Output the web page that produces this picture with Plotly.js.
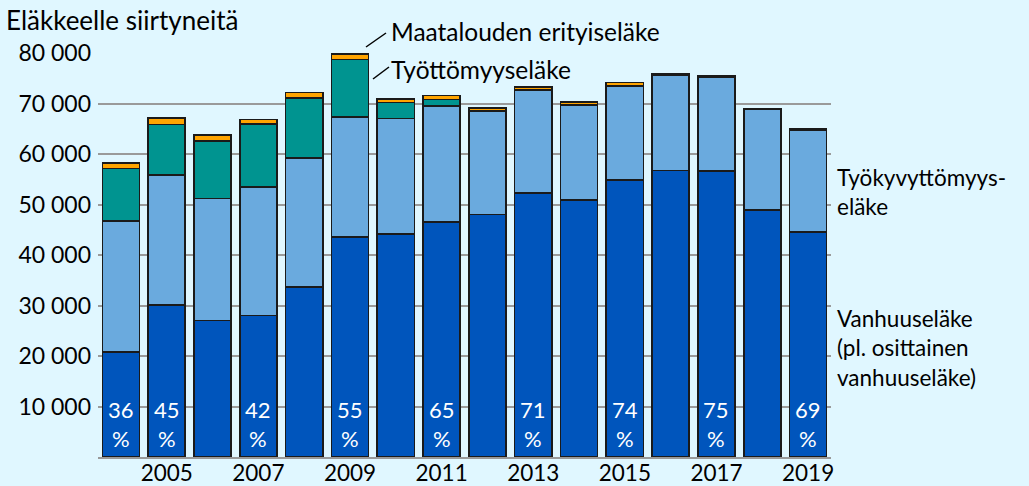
<!DOCTYPE html>
<html>
<head>
<meta charset="utf-8">
<script src="https://cdn.plot.ly/plotly-3.0.1.min.js"></script>
<style>
  html, body { margin: 0; padding: 0; background: #E0F7FF; }
  #chart { width: 1029px; height: 486px; }
</style>
</head>
<body>
<div id="chart"></div>
<script>
const years = [2004, 2005, 2006, 2007, 2008, 2009, 2010, 2011, 2012, 2013, 2014, 2015, 2016, 2017, 2018, 2019];
const vanhuuselake = [20800, 30150, 27060, 28050, 33720, 43620, 44150, 46590, 48050, 52330, 50890, 54850, 56770, 56630, 48910, 44610];
const tyokyvyttomyyselake = [25900, 25750, 24160, 25410, 25480, 23760, 22910, 22970, 20520, 20340, 18810, 18610, 18870, 18670, 19940, 20200];
const tyottomyyselake = [10460, 9970, 11350, 12470, 11880, 11360, 3170, 1260, null, null, null, null, null, null, null, null];
const maatalousErityiselake = [1100, 1250, 1190, 930, 1130, 1060, 720, 790, 590, 650, 650, 660, 260, 140, 110, 130];
const pctYears = [2004, 2005, 2007, 2009, 2011, 2013, 2015, 2017, 2019];
const pctLabels = ['36', '45', '42', '55', '65', '71', '74', '75', '69'];
const yTickVals = [10000, 20000, 30000, 40000, 50000, 60000, 70000, 80000];
const yTickText = ['10 000', '20 000', '30 000', '40 000', '50 000', '60 000', '70 000', '80 000'];
const xTickVals = [2005, 2007, 2009, 2011, 2013, 2015, 2017, 2019];

const FONT = 'Lato, "Open Sans", sans-serif';
const FS = 23;
const TS = 24.5;
const barLine = { color: '#1a1a1a', width: 1.6 };
const bw = 0.81;

function barTrace(name, y, color) {
  return { type: 'bar', name: name, x: years, y: y, width: bw,
    marker: { color: color, line: barLine }, hoverinfo: 'skip' };
}

const data = [
  barTrace('Vanhuuseläke', vanhuuselake, '#0055BC'),
  barTrace('Työkyvyttömyyseläke', tyokyvyttomyyselake, '#6AAADE'),
  barTrace('Työttömyyseläke', tyottomyyselake, '#009490'),
  barTrace('Maatalouden erityiseläke', maatalousErityiselake, '#FFA400')
];

const annotations = [];
pctYears.forEach((yr, i) => {
  annotations.push({ x: yr, y: 6500, xref: 'x', yref: 'y', text: pctLabels[i] + '<br>%', showarrow: false,
    font: { family: FONT, size: 22, color: '#ffffff' } });
});

const textFont = { family: FONT, size: TS, color: '#000000' };
const px = v => (v - 98) / 733;
const py = v => (457 - v) / 404;
annotations.push({ xref: 'paper', yref: 'paper', x: px(4), y: py(20), xanchor: 'left', yanchor: 'middle',
  text: 'Eläkkeelle siirtyneitä', showarrow: false, font: { family: FONT, size: 26, color: '#000' } });
annotations.push({ xref: 'paper', yref: 'paper', x: px(389), y: py(32), xanchor: 'left', yanchor: 'middle',
  text: 'Maatalouden erityiseläke', showarrow: false, font: textFont });
annotations.push({ xref: 'paper', yref: 'paper', x: px(389), y: py(69), xanchor: 'left', yanchor: 'middle',
  text: 'Työttömyyseläke', showarrow: false, font: textFont });
annotations.push({ xref: 'paper', yref: 'paper', x: px(835), y: py(191.5), xanchor: 'left', yanchor: 'middle', align: 'left',
  text: 'Työkyvyttömyys-<br>eläke', showarrow: false, font: { family: FONT, size: 22.5, color: '#000' } });
annotations.push({ xref: 'paper', yref: 'paper', x: px(835), y: py(347.5), xanchor: 'left', yanchor: 'middle', align: 'left',
  text: 'Vanhuuseläke<br>(pl. osittainen<br>vanhuuseläke)', showarrow: false, font: { family: FONT, size: 22.5, color: '#000' } });

const shapes = [
  { type: 'line', xref: 'paper', yref: 'paper', x0: px(366), y0: py(47), x1: px(386), y1: py(33), line: { color: '#000', width: 1.5 } },
  { type: 'line', xref: 'paper', yref: 'paper', x0: px(373), y0: py(79), x1: px(389), y1: py(67), line: { color: '#000', width: 1.5 } }
];

const layout = {
  width: 1029, height: 486,
  margin: { l: 98, r: 198, t: 53, b: 29, pad: 0 },
  paper_bgcolor: '#E0F7FF', plot_bgcolor: '#E0F7FF',
  barmode: 'stack', showlegend: false,
  font: { family: FONT, size: FS, color: '#000' },
  xaxis: { range: [2003.5, 2019.5], tickvals: xTickVals, ticktext: xTickVals.map(String),
    showgrid: false, zeroline: false, showline: true, linecolor: '#999999', linewidth: 2,
    ticks: '', ticklabelstandoff: -5, tickfont: { family: FONT, size: 22.5, color: '#000' }, fixedrange: true },
  yaxis: { range: [0, 80000], tickvals: yTickVals, ticktext: yTickText,
    showgrid: true, gridcolor: '#9a9a9a', gridwidth: 2, zeroline: false, showline: false,
    ticks: '', ticklabelstandoff: 6, tickfont: { family: FONT, size: FS, color: '#000' }, fixedrange: true },
  annotations: annotations,
  shapes: shapes
};

Plotly.newPlot('chart', data, layout, { displayModeBar: false, staticPlot: true });
</script>
</body>
</html>
